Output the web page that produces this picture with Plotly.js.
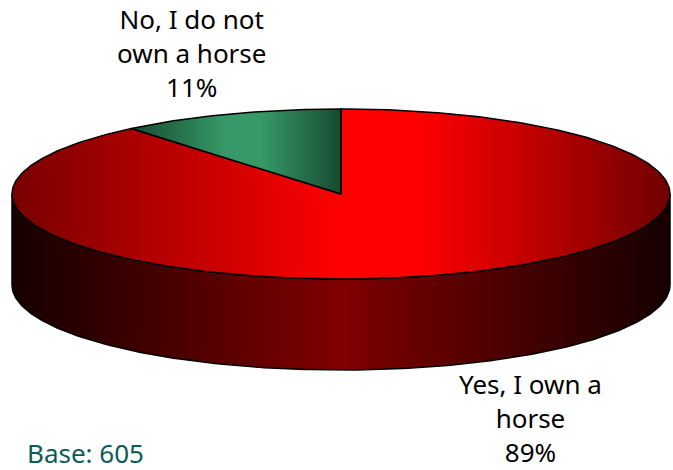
<!DOCTYPE html>
<html><head><meta charset="utf-8">
<script src="https://cdn.plot.ly/plotly-3.0.1.min.js"></script>
<style>html,body{margin:0;padding:0;background:#fff}#c{width:673px;height:470px}</style></head>
<body><div id="c"></div>
<script>
const categories = ['Yes, I own a<br>horse', 'No, I do not<br>own a horse'];
const shares = [89, 11];
const baseNote = 'Base: 605';

const cx = 341, cy = 194, rx = 329, ry = 85, depth = 91;
const FONT = '"Noto Sans",sans-serif';

function rim(fromPct, toPct, dy) {
  const xs = [], ys = [];
  const n = Math.max(2, Math.round(Math.abs(toPct - fromPct) * 4));
  for (let i = 0; i <= n; i++) {
    const a = (fromPct + (toPct - fromPct) * i / n) / 100 * 2 * Math.PI;
    xs.push(cx + rx * Math.sin(a));
    ys.push(cy - ry * Math.cos(a) + dy);
  }
  return [xs, ys];
}
function wedge(fromPct, toPct) {
  const [xs, ys] = rim(fromPct, toPct, 0);
  return [[cx, ...xs, cx], [cy, ...ys, cy]];
}
const [fx, fy] = rim(25, 75, 0);
const [bx, by] = rim(75, 25, depth);
const sideX = [...fx, ...bx, fx[0]];
const sideY = [...fy, ...by, fy[0]];

const [rX, rY] = wedge(0, shares[0]);
const [gX, gY] = wedge(shares[0], shares[0] + shares[1]);

function piece(x, y, start, stop, colorscale) {
  return {
    type: 'scatter', mode: 'lines', x, y, fill: 'toself', hoverinfo: 'skip',
    line: {color: '#000', width: 1.5, shape: 'linear'},
    fillgradient: {type: 'horizontal', start, stop, colorscale}
  };
}
const traces = [
  piece(sideX, sideY, 12, 670, [[0, '#150000'], [0.5, '#800000'], [1, '#150000']]),
  piece(rX, rY, 12, 670, [[0, '#780000'], [0.5, '#ff0000'], [0.62, '#ff0000'], [1, '#700000']]),
  piece(gX, gY, 131, 341, [[0, '#174a30'], [0.45, '#369967'], [0.62, '#369967'], [1, '#174a30']])
];

const label = (text, x, y, color, size) => ({
  text, x, y, xref: 'x', yref: 'y', showarrow: false,
  xanchor: 'center', yanchor: 'middle', align: 'center',
  font: {family: FONT, size: size || 26, color: color || '#000'}
});

const layout = {
  width: 673, height: 470, margin: {l: 0, r: 0, t: 0, b: 0},
  paper_bgcolor: '#fff', plot_bgcolor: '#fff', showlegend: false,
  xaxis: {range: [0, 673], visible: false, fixedrange: true},
  yaxis: {range: [470, 0], visible: false, fixedrange: true},
  annotations: [
    label(categories[1] + '<br>' + shares[1] + '%', 191, 53),
    label(categories[0] + '<br>' + shares[0] + '%', 530, 418),
    label(baseNote, 85, 453, '#0b5b57', 26)
  ]
};
Plotly.newPlot('c', traces, layout, {displayModeBar: false, staticPlot: true});
</script></body></html>
